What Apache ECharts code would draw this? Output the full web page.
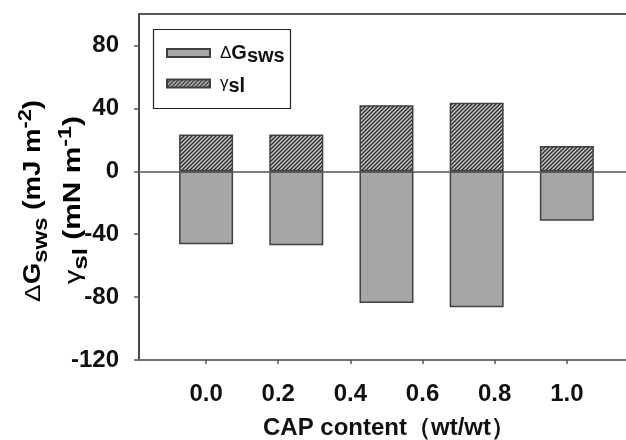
<!DOCTYPE html>
<html>
<head>
<meta charset="utf-8">
<script src="https://cdn.jsdelivr.net/npm/echarts@6/dist/echarts.min.js"></script>
<style>html,body{margin:0;padding:0;background:#fff}#c{width:626px;height:440px}</style>
</head>
<body>
<div id="c"></div>
<script>
// ---- data ----
var barPositions = [0, 0.25, 0.5, 0.75, 1.0];
var deltaG = [-46.4, -47.0, -83.7, -86.5, -31.4];
var gammaSl = [23.4, 23.4, 42.0, 43.5, 16.0];
var xTickValues = [0, 0.2, 0.4, 0.6, 0.8, 1.0];
var xTickLabels = ['0.0', '0.2', '0.4', '0.6', '0.8', '1.0'];
var yTickValues = [-120, -80, -40, 0, 40, 80];
var seriesNames = ['ΔGsws', 'γsl'];
var xTitle = 'CAP content（wt/wt）';

// ---- hatch pattern ----
function makeHatch() {
  var c = document.createElement('canvas');
  c.width = 4; c.height = 4;
  var g = c.getContext('2d');
  g.fillStyle = '#c4c4c4';
  g.fillRect(0, 0, 4, 4);
  g.strokeStyle = '#2b2b2b';
  g.lineWidth = 1.3;
  g.beginPath();
  g.moveTo(-1, 5); g.lineTo(5, -1);
  g.moveTo(-1, 1); g.lineTo(1, -1);
  g.moveTo(3, 5); g.lineTo(5, 3);
  g.stroke();
  return c;
}
var hatch = makeHatch();

var FONT = '"Liberation Sans", Arial, sans-serif';

var chart = echarts.init(document.getElementById('c'), null, {renderer: 'canvas'});

var titleRich = {
  m: {fontFamily: FONT, fontSize: 23, fontWeight: 'bold', color: '#111', lineHeight: 34, verticalAlign: 'middle'},
  d: {fontFamily: FONT, fontSize: 22, fontWeight: 'normal', color: '#111', lineHeight: 34, verticalAlign: 'middle'},
  sub: {fontFamily: FONT, fontSize: 20, fontWeight: 'bold', color: '#111', lineHeight: 21, verticalAlign: 'bottom'},
  sup: {fontFamily: FONT, fontSize: 18, fontWeight: 'bold', color: '#111', lineHeight: 14, verticalAlign: 'top'}
};

var option = {
  animation: false,
  backgroundColor: '#fff',
  grid: {left: 139, top: 14, width: 500, height: 346, outerBoundsMode: 'none', containLabel: false,
    show: true, borderColor: '#222', borderWidth: 1.5, backgroundColor: 'transparent'},
  legend: {
    left: 161, top: 38, orient: 'vertical', itemWidth: 43, itemHeight: 8, itemGap: 9,
    icon: 'rect',
    data: seriesNames,
    formatter: function (name) {
      if (name === seriesNames[0]) return '{d|Δ}{g|G}{s|sws}';
      return '{d|γ}{s|sl}';
    },
    textStyle: {
      padding: [0, 0, 0, 5],
      rich: {
        d: {fontFamily: FONT, fontSize: 17, color: '#111', lineHeight: 26, verticalAlign: 'middle'},
        g: {fontFamily: FONT, fontSize: 20, fontWeight: 'bold', color: '#111', lineHeight: 26, verticalAlign: 'middle'},
        s: {fontFamily: FONT, fontSize: 20, fontWeight: 'bold', color: '#111', lineHeight: 19, verticalAlign: 'bottom'}
      }
    }
  },
  xAxis: {
    type: 'value', min: -0.186, max: 1.2,
    splitLine: {show: false},
    axisLine: {show: true, onZero: false, lineStyle: {color: '#777', width: 1.5}},
    axisTick: {show: true, customValues: xTickValues, length: 4, lineStyle: {color: '#555', width: 1.5}},
    axisLabel: {
      customValues: xTickValues, margin: 22,
      fontFamily: FONT, fontSize: 24, fontWeight: 'bold', color: '#111',
      formatter: function (v) { return xTickLabels[xTickValues.indexOf(Math.round(v * 10) / 10)]; }
    },
    name: xTitle, nameLocation: 'middle', nameGap: 56,
    nameTextStyle: {fontFamily: FONT, fontSize: 24, fontWeight: 'bold', color: '#111'}
  },
  yAxis: {
    type: 'value', min: -120, max: 100,
    splitLine: {show: false},
    axisLine: {show: true, onZero: false, lineStyle: {color: '#444', width: 1.5}},
    axisTick: {show: true, customValues: yTickValues, length: 5, lineStyle: {color: '#555', width: 1.5}},
    axisLabel: {customValues: yTickValues, margin: 20, fontFamily: FONT, fontSize: 24, fontWeight: 'bold', color: '#111'}
  },
  series: [
    {
      name: seriesNames[0], type: 'bar', barWidth: 54,
      data: barPositions.map(function (x, i) { return [x, deltaG[i]]; }),
      itemStyle: {color: '#a6a6a6', borderColor: '#404040', borderWidth: 1.5},
      markLine: {
        silent: true, symbol: 'none', label: {show: false},
        lineStyle: {color: '#555', width: 1.5, type: 'solid'},
        data: [{yAxis: 0}]
      }
    },
    {
      name: seriesNames[1], type: 'bar', barWidth: 54, barGap: '-100%',
      data: barPositions.map(function (x, i) { return [x, gammaSl[i]]; }),
      itemStyle: {color: {image: hatch, repeat: 'repeat'}, borderColor: '#404040', borderWidth: 1.5}
    }
  ],
  graphic: [
    {type: 'rect', left: 151, top: 27, shape: {width: 137, height: 79}, style: {fill: 'none', stroke: '#222', lineWidth: 1.2}, z: 10},
    {type: 'text', x: 34, y: 201, rotation: Math.PI / 2, scaleX: 1.2,
      style: {text: '{d|Δ}{m|G}{sub|sws}{m| (mJ m}{sup|-2}{m|)}', rich: titleRich, align: 'center', verticalAlign: 'middle'}},
    {type: 'text', x: 74, y: 200, rotation: Math.PI / 2, scaleX: 1.3,
      style: {text: '{d|γ}{sub|sl}{m| (mN m}{sup|-1}{m|)}', rich: titleRich, align: 'center', verticalAlign: 'middle'}}
  ]
};
chart.setOption(option);
</script>
</body>
</html>
